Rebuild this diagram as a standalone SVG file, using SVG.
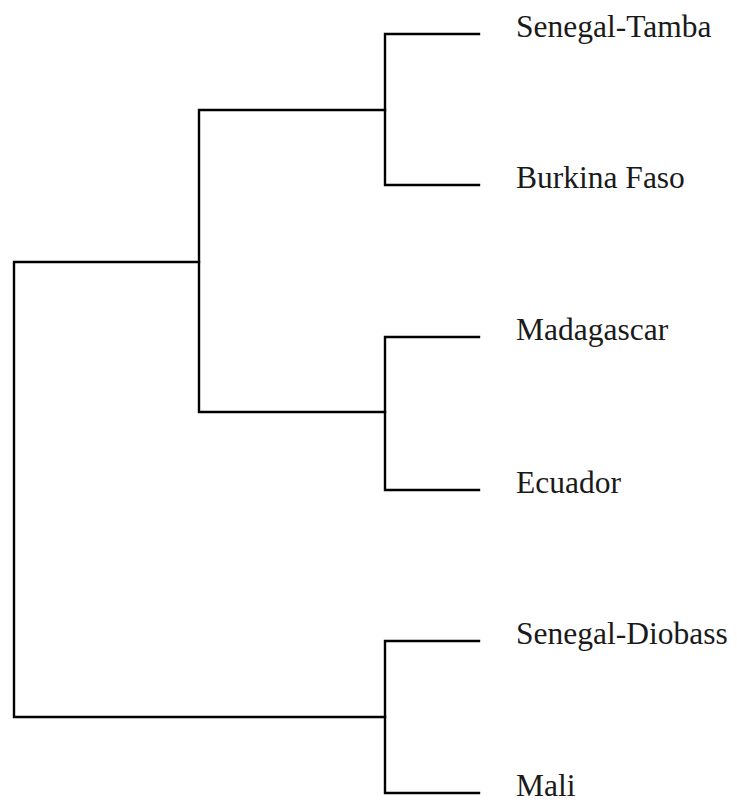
<svg xmlns="http://www.w3.org/2000/svg" width="737" height="805" viewBox="0 0 737 805">
<style>
.c{fill:none;stroke:#000;stroke-width:2.4;stroke-linecap:square;stroke-linejoin:miter}
.t{font-family:"Liberation Serif","Times New Roman",serif;font-size:31.5px;fill:#1a1a1a}
</style>
<rect width="737" height="805" fill="#fff"/>
<g id="connectors">
<path class="c" d="M385,34 H479 M385,34 V185 H479"/>
<path class="c" d="M385,337 H479 M385,337 V490 H479"/>
<path class="c" d="M385,641 H479 M385,641 V793 H479"/>
<path class="c" d="M199,110 H385 M199,110 V412 H385"/>
<path class="c" d="M14,262 H199 M14,262 V717 H385"/>
</g>
<g id="node-senegal-tamba"><text class="t" x="516" y="37">Senegal-Tamba</text></g>
<g id="node-burkina-faso"><text class="t" x="516" y="188">Burkina Faso</text></g>
<g id="node-madagascar"><text class="t" x="516" y="340">Madagascar</text></g>
<g id="node-ecuador"><text class="t" x="516" y="493">Ecuador</text></g>
<g id="node-senegal-diobass"><text class="t" x="516" y="644">Senegal-Diobass</text></g>
<g id="node-mali"><text class="t" x="516" y="796">Mali</text></g>
</svg>
